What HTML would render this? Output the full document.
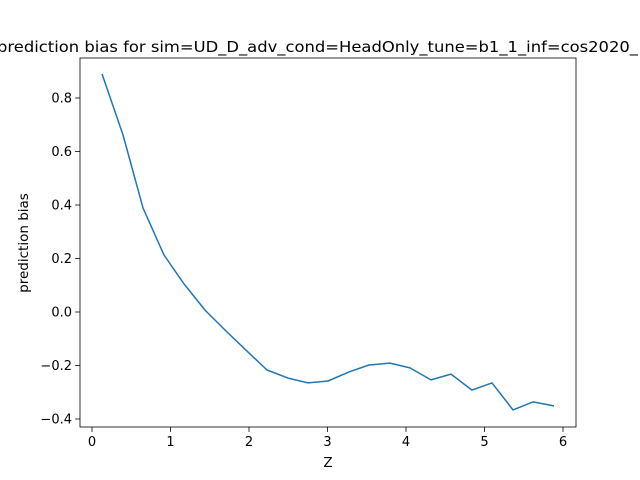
<!DOCTYPE html>
<html><head><meta charset="utf-8"><style>
html,body{margin:0;padding:0;background:#fff;}
svg{display:block;font-family:"DejaVu Sans","Liberation Sans",sans-serif;}
</style></head><body>
<svg id="chart" width="640" height="480">
<rect x="0" y="0" width="640" height="480" fill="#fff"/>
<text x="-3" y="52" font-size="15.5" textLength="641" lengthAdjust="spacingAndGlyphs">prediction bias for sim=UD_D_adv_cond=HeadOnly_tune=b1_1_inf=cos2020_</text>
<g id="axes"></g>
<text x="328" y="467" font-size="13.5" text-anchor="middle">Z</text>
<text transform="translate(28,243) rotate(-90)" font-size="13.5" text-anchor="middle">prediction bias</text>
</svg>
<script>
const zValues=[0.127,0.395,0.650,0.917,1.172,1.439,1.707,1.975,2.229,2.497,2.752,3.006,3.274,3.529,3.796,4.051,4.318,4.573,4.841,5.096,5.363,5.618,5.885];
const biasValues=[0.890,0.662,0.389,0.213,0.105,0.007,-0.071,-0.146,-0.217,-0.247,-0.265,-0.258,-0.224,-0.198,-0.191,-0.209,-0.254,-0.232,-0.292,-0.265,-0.366,-0.336,-0.351];
const xTicks=[0,1,2,3,4,5,6];
const yTicks=[-0.4,-0.2,0.0,0.2,0.4,0.6,0.8];
const yTickLabels=["−0.4","−0.2","0.0","0.2","0.4","0.6","0.8"];

const NS="http://www.w3.org/2000/svg";
const L=80,R=576,T=58,B=427;
const xs=v=>92+v*78.5;
const ys=v=>312-v*267.5;
const g=document.getElementById('axes');
function el(t,a){const e=document.createElementNS(NS,t);for(const k in a)e.setAttribute(k,a[k]);g.appendChild(e);return e;}
xTicks.forEach(t=>{
  const x=xs(t);
  const tk=el('line',{x1:x,x2:x,y1:B,y2:B+4.9,stroke:'#000','stroke-width':0.8});
  
  
  const tx=el('text',{x:x,y:B+19,'font-size':13,'text-anchor':'middle'});
  tx.textContent=t;
  
  
});
yTicks.forEach((t,i)=>{
  const y=ys(t);
  const tk=el('line',{x1:L-4.9,x2:L,y1:y,y2:y,stroke:'#000','stroke-width':0.8});
  
  
  const tx=el('text',{x:L-8,y:y+4.5,'font-size':13,'text-anchor':'end'});
  tx.textContent=yTickLabels[i];
  
  
});
const pts=zValues.map((z,i)=>xs(z).toFixed(1)+','+ys(biasValues[i]).toFixed(1)).join(' ');
const line=el('polyline',{points:pts,fill:'none',stroke:'#1f77b4','stroke-width':1.5,'stroke-linejoin':'round'});


const frame=el('rect',{x:L,y:T,width:R-L,height:B-T,fill:'none',stroke:'#000','stroke-width':0.8});


</script>
</body></html>
